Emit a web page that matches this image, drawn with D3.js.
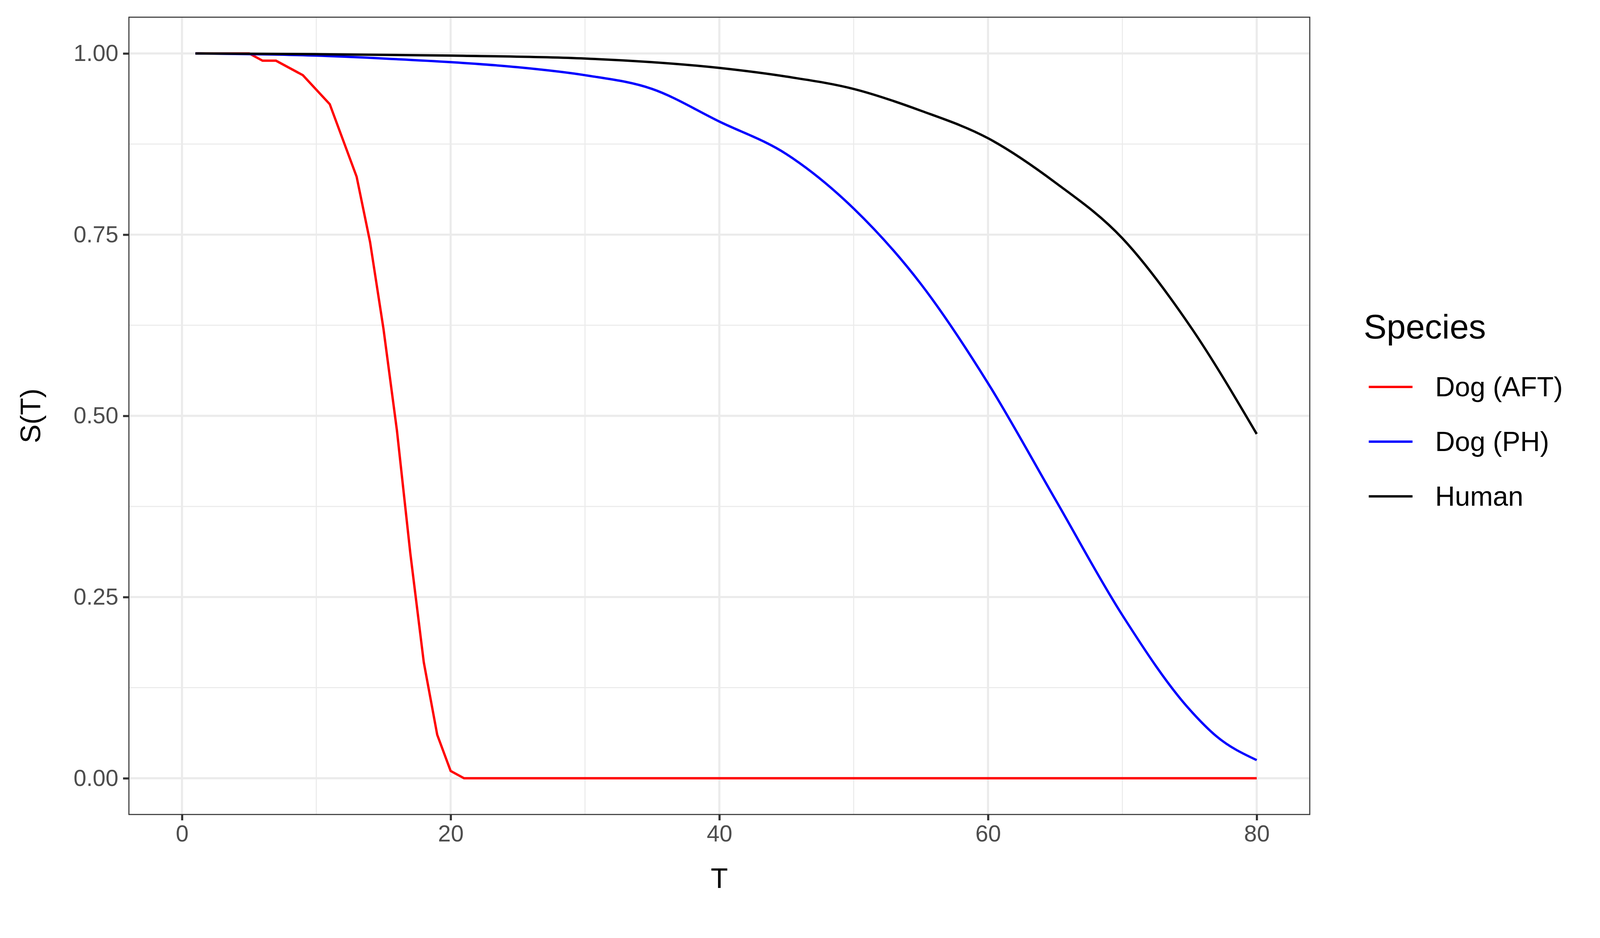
<!DOCTYPE html>
<html><head><meta charset="utf-8">
<script src="https://cdn.jsdelivr.net/npm/d3@7"></script>
<style>body{margin:0;background:#fff}text{font-family:"Liberation Sans",Arial,sans-serif}</style>
</head><body><div id="chart"></div>
<script>
// series
let aftT = [1,5,6,7,9,11,13,14,15,16,17,18,19,20,21,30,40,50,60,70,80];
let aftS = [1,1,0.99,0.99,0.97,0.93,0.83,0.74,0.62,0.48,0.31,0.16,0.06,0.01,0,0,0,0,0,0,0];
let phT = [1,5,10,15,20,25,30,35,40,45,50,55,60,65,70,75,77,80];
let phS = [1,0.999,0.997,0.993,0.988,0.981,0.970,0.951,0.906,0.861,0.786,0.682,0.545,0.385,0.225,0.095,0.058,0.025];
let humT = [1,10,20,30,40,45,50,55,60,65,70,75,80];
let humS = [1,0.999,0.997,0.993,0.98,0.968,0.951,0.921,0.883,0.822,0.745,0.625,0.475];
let species = ['Dog (AFT)','Dog (PH)','Human'];
let colors = ['#FF0000','#0000FF','#000000'];
let xTicks = [0,20,40,60,80];
let yTicks = [0,0.25,0.5,0.75,1];

let svg = d3.select('#chart').append('svg').attr('width',4200).attr('height',2400);
let L = 330, R = 3353, T = 44, B = 2084;
let x = d3.scaleLinear().domain([-3.95,83.95]).range([L,R]);
let y = d3.scaleLinear().domain([-0.05,1.05]).range([B,T]);

// grid
let minorX = [10,30,50,70];
let minorY = [0.125,0.375,0.625,0.875];
svg.selectAll('.mx').data(minorX).enter().append('line')
    .attr('x1',d=>x(d)).attr('x2',d=>x(d)).attr('y1',T).attr('y2',B)
    .attr('stroke','#EBEBEB').attr('stroke-width',2.7);
svg.selectAll('.my').data(minorY).enter().append('line')
    .attr('x1',L).attr('x2',R).attr('y1',d=>y(d)).attr('y2',d=>y(d))
    .attr('stroke','#EBEBEB').attr('stroke-width',2.7);
svg.selectAll('.gx').data(xTicks).enter().append('line')
    .attr('x1',d=>x(d)).attr('x2',d=>x(d)).attr('y1',T).attr('y2',B)
    .attr('stroke','#EBEBEB').attr('stroke-width',5.4);
svg.selectAll('.gy').data(yTicks).enter().append('line')
    .attr('x1',L).attr('x2',R).attr('y1',d=>y(d)).attr('y2',d=>y(d))
    .attr('stroke','#EBEBEB').attr('stroke-width',5.4);

// lines
let series = [[aftT,aftS],[phT,phS],[humT,humS]];
series.forEach(function (s, i) {
    let pts = s[0].map((t, j) => [t, s[1][j]]);
    let line = d3.line().x(d=>x(d[0])).y(d=>y(d[1]))
        .curve(i === 0 ? d3.curveLinear : d3.curveMonotoneX);
    svg.append('path').attr('d', line(pts)).attr('fill','none')
        .attr('stroke', colors[i]).attr('stroke-width',6);
});

// panel border
svg.append('rect').attr('x',L).attr('y',T).attr('width',R-L).attr('height',B-T)
    .attr('fill','none').attr('stroke','#333333').attr('stroke-width',2.7);

// axes
let xa = svg.append('g').attr('transform','translate(0,'+B+')')
    .call(d3.axisBottom(x).tickValues(xTicks).tickSize(15).tickPadding(12));
let ya = svg.append('g').attr('transform','translate('+L+',0)')
    .call(d3.axisLeft(y).tickValues(yTicks).tickFormat(d3.format('.2f')).tickSize(15).tickPadding(12));
[xa, ya].forEach(function (a) {
    a.select('.domain').remove();
    a.selectAll('line').attr('stroke','#333333').attr('stroke-width',5.4);
    a.selectAll('text').attr('fill','#4D4D4D').style('font-size','59px');
});

svg.append('text').attr('x',(L+R)/2).attr('y',2272).attr('text-anchor','middle')
    .style('font-size','72px').text('T');
svg.append('text').attr('transform','translate(103,'+((T+B)/2)+') rotate(-90)')
    .attr('text-anchor','middle').style('font-size','72px').text('S(T)');

// legend
svg.append('text').attr('x',3491).attr('y',866).style('font-size','88px').text('Species');
let leg = svg.selectAll('.leg').data(species).enter().append('g')
    .attr('transform',(d,i)=>'translate(0,'+(990+i*140)+')');
leg.append('line').attr('x1',3504).attr('x2',3616).attr('stroke',(d,i)=>colors[i]).attr('stroke-width',6);
leg.append('text').attr('x',3674).attr('y',24).style('font-size','70px').text(d=>d);
</script></body></html>
